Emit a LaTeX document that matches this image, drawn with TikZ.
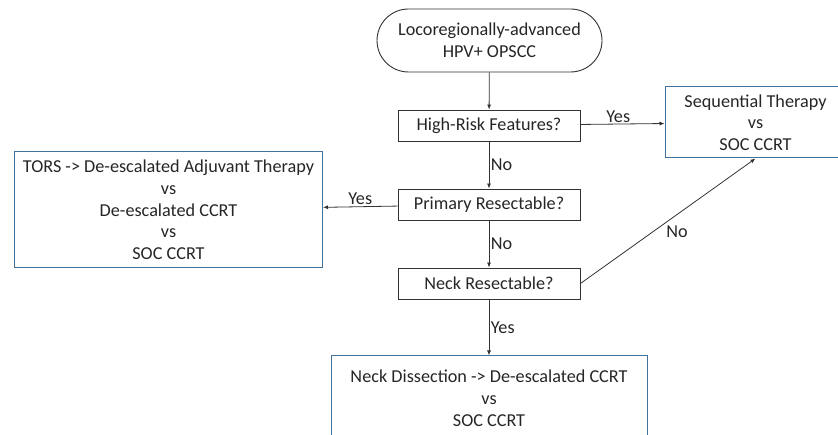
\documentclass[tikz,border=0pt]{standalone}
\usepackage{fontspec}
\setmainfont{Carlito}
\usetikzlibrary{arrows.meta,shapes.misc}
\definecolor{boxblue}{RGB}{65,113,156}
\definecolor{txt}{RGB}{38,38,38}
\definecolor{edge}{RGB}{50,50,50}
\begin{document}
\begin{tikzpicture}[x=1pt,y=-1pt,
  base/.style={font=\fontsize{18.2}{21.7}\selectfont, text=txt, align=center, inner sep=0pt},
  startbox/.style={base, draw=edge, line width=0.9pt, rounded rectangle, minimum width=225pt, minimum height=63pt},
  decbox/.style={base, draw=edge, line width=0.9pt, rectangle, minimum width=182pt, minimum height=31pt},
  outbox/.style={base, draw=boxblue, line width=1pt, rectangle},
  conn/.style={draw=edge, line width=0.8pt, -{Latex[length=5pt,width=4pt]}},
  lab/.style={font=\fontsize{18.2}{20}\selectfont, text=txt, inner sep=1.5pt}
]
\useasboundingbox (0,0) rectangle (838,435);
\begin{scope}
\clip (0,0) rectangle (838,435);
\node[startbox] (start) at (489.5,40.5) {Locoregionally-advanced\\HPV+ OPSCC};
\node[decbox] (hr) at (489,125.5) {High-Risk Features?};
\node[decbox] (pr) at (489,204.5) {Primary Resectable?};
\node[decbox] (nr) at (489,283.5) {Neck Resectable?};
\node[outbox, minimum width=181pt, minimum height=71pt] (seq) at (755.5,122.5) {Sequential Therapy\\vs\\SOC CCRT};
\node[outbox, minimum width=308pt, minimum height=116pt] (tors) at (168.5,210) {TORS -> De-escalated Adjuvant Therapy\\vs\\De-escalated CCRT\\vs\\SOC CCRT};
\node[outbox, minimum width=316pt, minimum height=84pt, text depth=0pt] (nd) at (489,398) {Neck Dissection -> De-escalated CCRT\\vs\\SOC CCRT};

\draw[conn] (start) -- (hr);
\draw[conn] (hr) -- node[lab, above, pos=0.45] {Yes} (seq);
\draw[conn] (hr) -- node[lab, right] {No} (pr);
\draw[conn] (pr) -- node[lab, above] {Yes} (tors);
\draw[conn] (pr) -- node[lab, right] {No} (nr);
\draw[conn] (nr.east) -- node[lab, anchor=north west, pos=0.48] {No} (seq.south);
\draw[conn] (nr) -- node[lab, right] {Yes} (nd);
\end{scope}
\end{tikzpicture}
\end{document}
